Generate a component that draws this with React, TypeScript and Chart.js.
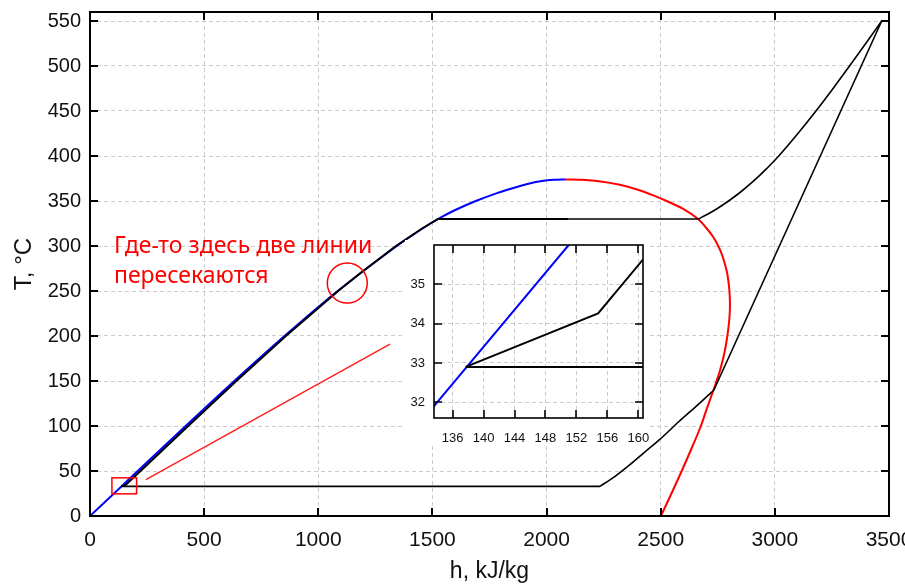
import React, { useEffect, useRef } from "react";
import { Chart, registerables } from "chart.js";
Chart.register(...registerables);

const FONT = "'Liberation Sans', Arial, sans-serif";
const NOTE_FONT = "'Noto Sans', 'Open Sans', sans-serif";

// Saturated liquid line (blue)
const liquidH = [0, 105, 134, 151, 209, 419, 632, 852, 1085, 1344, 1460, 1524, 1600, 1690, 1780, 1855, 1925, 1980, 2030, 2084];
const liquidT = [0, 25, 32, 36, 50, 100, 150, 200, 250, 300, 320, 330, 340, 350, 358.5, 364.5, 369.5, 372.3, 373.6, 374];
// Saturated vapour line (red)
const vaporH = [2084, 2150, 2230, 2321, 2400, 2470, 2526, 2600, 2664, 2700, 2730, 2752, 2769, 2781, 2791, 2797, 2801, 2803, 2803, 2801, 2792, 2778, 2760, 2742, 2720, 2700, 2676, 2635, 2592, 2547, 2501];
const vaporT = [374, 373.7, 372, 368, 362.5, 356, 350, 341, 330, 320, 310, 300, 290, 280, 270, 260, 250, 240, 230, 220, 200, 180, 162, 148, 132, 118, 100, 75, 50, 25, 0];
// Feed water: pump + heating up to boiling (black)
const feedH = [137.7, 154.8, 160.6, 220, 430, 641, 858, 1087, 1185, 1340, 1458, 1525, 2094];
const feedT = [32.9, 34.26, 35.63, 49.8, 100, 150, 200, 250, 270, 300, 320, 330, 330];
// Evaporation at 330 °C
const evapH = [1525, 2664];
const evapT = [330, 330];
// Superheating
const superH = [2664, 2703, 2750, 2797, 2850, 2906, 2964, 3017, 3101, 3180, 3255, 3327, 3398, 3468];
const superT = [330, 335, 342, 350, 360, 372, 386, 400, 425, 450, 475, 500, 525, 550];
// Turbine expansion
const turbH = [3468, 2733];
const turbT = [550, 140];
// Exhaust cooling
const exhH = [2733, 2660, 2580, 2500, 2430, 2365, 2300, 2234];
const exhT = [140, 123, 105, 86, 71, 57, 44, 32.9];
// Condensation
const condH = [2234, 137.7];
const condT = [32.9, 32.9];

// Annotations
const pointerH = [245, 1314];
const pointerT = [40.5, 191];
const zoomBoxH = [96, 204];
const zoomBoxT = [24.6, 42.4];
const circleH = 1127;
const circleT = 258.8;
const noteLines = ["Где-то здесь две линии", "пересекаются"];
const noteH = 105;
const noteT = [292.1, 258.8];

const mainXTicks = [0, 500, 1000, 1500, 2000, 2500, 3000, 3500];
const mainYTicks = [0, 50, 100, 150, 200, 250, 300, 350, 400, 450, 500, 550];
const insetXTicks = [136, 140, 144, 148, 152, 156, 160];
const insetYTicks = [32, 33, 34, 35];
const xTitle = "h, kJ/kg";
const yTitle = "T, °C";

const pts = (xs: number[], ys: number[]) => xs.map((x, i) => ({ x, y: ys[i] }));

const line = (xs: number[], ys: number[], color: string, width: number, tension = 0) => ({
  data: pts(xs, ys),
  borderColor: color,
  backgroundColor: color,
  borderWidth: width,
  showLine: true,
  pointRadius: 0,
  tension,
  fill: false,
});

const bgPlugin = {
  id: "bg",
  beforeDraw(chart: any) {
    const { ctx, width, height } = chart;
    ctx.save();
    ctx.fillStyle = "#ffffff";
    ctx.fillRect(0, 0, width, height);
    ctx.restore();
  },
};

const framePlugin = (tickLen: number, lw: number) => ({
  id: "frame",
  afterDatasetsDraw(chart: any) {
    const { ctx, chartArea } = chart;
    const { left, right, top, bottom } = chartArea;
    const xs = chart.scales.x;
    const ys = chart.scales.y;
    ctx.save();
    ctx.strokeStyle = "#000";
    ctx.lineWidth = lw;
    ctx.beginPath();
    xs.ticks.forEach((t: any) => {
      const px = Math.round(xs.getPixelForValue(t.value));
      ctx.moveTo(px, bottom);
      ctx.lineTo(px, bottom - tickLen);
      ctx.moveTo(px, top);
      ctx.lineTo(px, top + tickLen);
    });
    ys.ticks.forEach((t: any) => {
      const py = Math.round(ys.getPixelForValue(t.value));
      ctx.moveTo(left, py);
      ctx.lineTo(left + tickLen, py);
      ctx.moveTo(right, py);
      ctx.lineTo(right - tickLen, py);
    });
    ctx.stroke();
    ctx.strokeRect(left, top, right - left, bottom - top);
    ctx.restore();
  },
});

const annotPlugin = {
  id: "annot",
  afterDraw(chart: any) {
    const { ctx, chartArea } = chart;
    const xs = chart.scales.x;
    const ys = chart.scales.y;
    ctx.save();
    ctx.strokeStyle = "#ff0000";
    ctx.lineWidth = 1.5;
    const x0 = xs.getPixelForValue(zoomBoxH[0]);
    const x1 = xs.getPixelForValue(zoomBoxH[1]);
    const y0 = ys.getPixelForValue(zoomBoxT[1]);
    const y1 = ys.getPixelForValue(zoomBoxT[0]);
    ctx.strokeRect(x0, y0, x1 - x0, y1 - y0);
    ctx.beginPath();
    ctx.arc(xs.getPixelForValue(circleH), ys.getPixelForValue(circleT), 20, 0, Math.PI * 2);
    ctx.stroke();
    ctx.fillStyle = "#ff0000";
    ctx.font = `23px ${NOTE_FONT}`;
    ctx.textBaseline = "alphabetic";
    ctx.textAlign = "left";
    noteLines.forEach((s, i) => {
      ctx.fillText(s, xs.getPixelForValue(noteH), ys.getPixelForValue(noteT[i]));
    });
    // axis titles
    ctx.fillStyle = "#111";
    ctx.font = `23px ${FONT}`;
    ctx.textAlign = "center";
    ctx.fillText(xTitle, (chartArea.left + chartArea.right) / 2, 578);
    ctx.translate(31, (chartArea.top + chartArea.bottom) / 2);
    ctx.rotate(-Math.PI / 2);
    ctx.font = `24px ${FONT}`;
    ctx.fillText(yTitle, 0, 0);
    ctx.restore();
  },
};

function makeScale(min: number, max: number, ticks: number[], horizontal: boolean, size: number, fontSize: number, pad: number) {
  return {
    type: "linear",
    min,
    max,
    afterBuildTicks: (s: any) => {
      s.ticks = ticks.map((v) => ({ value: v }));
    },
    afterFit: (s: any) => {
      if (horizontal) s.height = size;
      else s.width = size;
      s.paddingLeft = 0;
      s.paddingRight = 0;
      s.paddingTop = 0;
      s.paddingBottom = 0;
    },
    grid: { color: "#cccccc", lineWidth: 1, drawTicks: false },
    border: { display: false, dash: [4, 3] },
    ticks: {
      font: { family: FONT, size: fontSize },
      color: "#111",
      padding: pad,
      maxRotation: 0,
      autoSkip: false,
      callback: (v: any) => String(v),
    },
  };
}

export default function App() {
  const mainRef = useRef<HTMLCanvasElement>(null);
  const insetRef = useRef<HTMLCanvasElement>(null);

  useEffect(() => {
    const main = new Chart(mainRef.current as HTMLCanvasElement, {
      type: "scatter",
      data: {
        datasets: [
          line(pointerH, pointerT, "#ff2020", 1.5),
          line(feedH, feedT, "#000000", 2),
          line(evapH, evapT, "#000000", 1.6),
          line(superH, superT, "#000000", 1.6, 0.4),
          line(turbH, turbT, "#000000", 1.6),
          line(exhH, exhT, "#000000", 1.6, 0.3),
          line(condH, condT, "#000000", 1.6),
          line(liquidH, liquidT, "#0000ff", 2, 0.3),
          line(vaporH, vaporT, "#ff0000", 2, 0.3),
        ] as any,
      },
      options: {
        animation: false,
        responsive: false,
        events: [],
        plugins: { legend: { display: false }, tooltip: { enabled: false } },
        layout: { padding: { left: 0, right: 16, top: 12, bottom: 0 } },
        scales: {
          x: makeScale(0, 3500, mainXTicks, true, 70, 21, 12) as any,
          y: makeScale(0, 560, mainYTicks, false, 90, 20, 9) as any,
        },
      },
      plugins: [bgPlugin, framePlugin(8, 2), annotPlugin],
    });

    const inset = new Chart(insetRef.current as HTMLCanvasElement, {
      type: "scatter",
      data: {
        datasets: [
          line(feedH, feedT, "#000000", 2),
          line(condH, condT, "#000000", 2),
          line(liquidH, liquidT, "#0000ff", 2),
        ] as any,
      },
      options: {
        animation: false,
        responsive: false,
        events: [],
        plugins: { legend: { display: false }, tooltip: { enabled: false } },
        layout: { padding: { left: 0, right: 7, top: 5, bottom: 0 } },
        scales: {
          x: makeScale(133.6, 160.6, insetXTicks, true, 28, 13, 13) as any,
          y: makeScale(31.6, 36, insetYTicks, false, 29, 13, 9) as any,
        },
      },
      plugins: [bgPlugin, framePlugin(8, 1.6)],
    });

    return () => {
      main.destroy();
      inset.destroy();
    };
  }, []);

  return (
    <div style={{ position: "absolute", left: 0, top: 0, width: 905, height: 586, background: "#fff" }}>
      <canvas ref={mainRef} width={905} height={586} style={{ position: "absolute", left: 0, top: 0, display: "block" }} />
      <canvas ref={insetRef} width={245} height={206} style={{ position: "absolute", left: 405, top: 240, display: "block" }} />
    </div>
  );
}
